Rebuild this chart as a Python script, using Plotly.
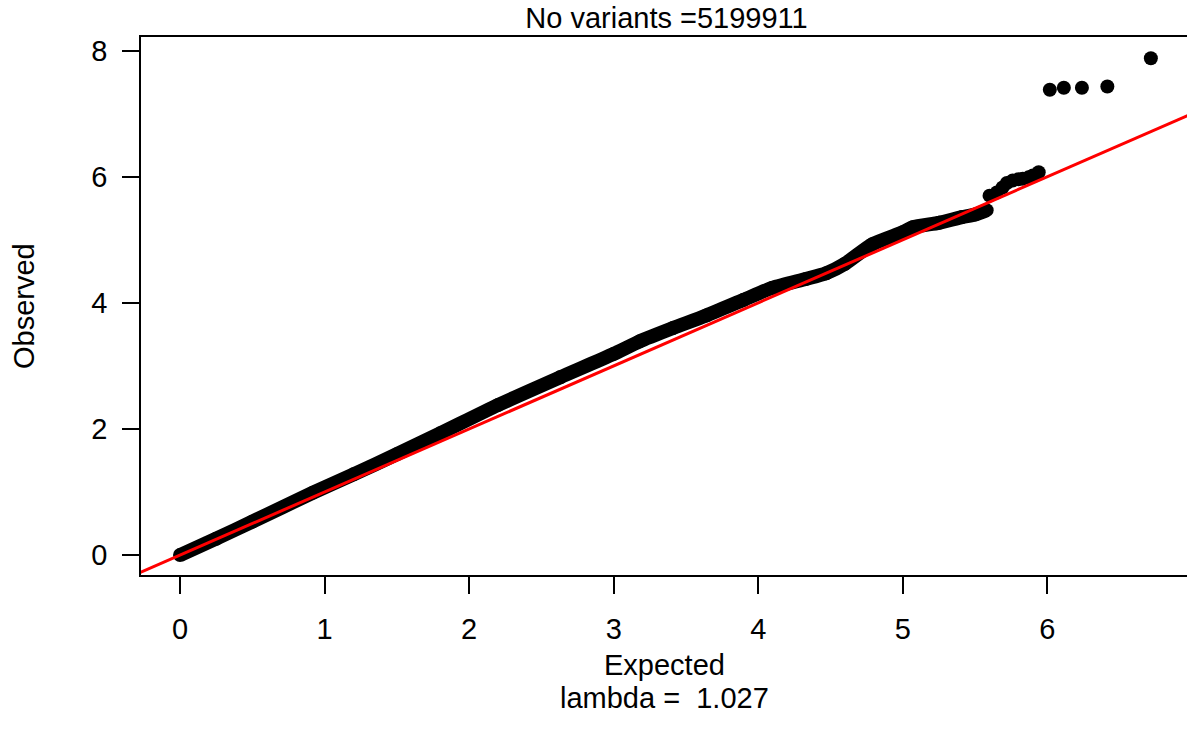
import plotly.graph_objects as go

# Q-Q plot of association p-values: -log10(expected) vs -log10(observed)
n_variants = 5199911
lambda_gc = 1.027

# Dense body of the distribution (drawn as a thick band of overlapping points)
band_expected = [0.00, 0.25, 0.50, 0.92, 1.20, 1.50, 1.80, 2.20, 2.63, 3.00, 3.18,
                 3.41, 3.64, 3.90, 4.10, 4.33, 4.47, 4.60, 4.79, 5.00, 5.07, 5.25,
                 5.41, 5.50, 5.58]
band_observed = [0.00, 0.26, 0.53, 0.99, 1.28, 1.60, 1.93, 2.38, 2.82, 3.19, 3.39,
                 3.60, 3.80, 4.05, 4.24, 4.38, 4.47, 4.62, 4.93, 5.12, 5.20, 5.27,
                 5.36, 5.40, 5.47]

# Upper tail: individual variants
tail_expected = [5.60, 5.65, 5.69, 5.72, 5.76, 5.80, 5.83, 5.87, 5.90, 5.94,
                 6.017, 6.114, 6.239, 6.415, 6.716]
tail_observed = [5.70, 5.75, 5.83, 5.90, 5.94, 5.96, 5.97, 5.99, 6.02, 6.07,
                 7.38, 7.41, 7.41, 7.43, 7.88]

# Reference line y = a + b*x
abline_a, abline_b = 0.0, 1.0

x_range = [-0.27, 6.966]
y_range = [-0.316, 8.216]
x_ticks = [0, 1, 2, 3, 4, 5, 6]
y_ticks = [0, 2, 4, 6, 8]

FONT = "Liberation Sans, Arial, Helvetica, sans-serif"
FS = 29

fig = go.Figure()

fig.add_trace(go.Scatter(
    x=band_expected, y=band_observed, mode="lines+markers",
    line=dict(color="black", width=14, shape="spline", smoothing=0.6),
    marker=dict(color="black", size=14),
    hoverinfo="skip", showlegend=False,
))
fig.add_trace(go.Scatter(
    x=tail_expected, y=tail_observed, mode="markers",
    marker=dict(color="black", size=14),
    showlegend=False,
))

line_x = [x_range[0] - 1, x_range[1] + 1]
fig.add_trace(go.Scatter(
    x=line_x, y=[abline_a + abline_b * v for v in line_x], mode="lines",
    line=dict(color="#ff0000", width=3),
    hoverinfo="skip", showlegend=False,
))

axis_common = dict(
    showgrid=False, zeroline=False, showline=True, linecolor="black", linewidth=1.8,
    ticks="outside", ticklen=17, tickwidth=1.6, tickcolor="black",
    tickfont=dict(family=FONT, size=FS, color="black"),
)

fig.update_layout(
    width=1187, height=744,
    margin=dict(l=141, r=0, t=37, b=169),
    paper_bgcolor="white", plot_bgcolor="white",
    font=dict(family=FONT, size=FS, color="black"),
    title=dict(text=f"No variants ={n_variants}", x=0.5615, xanchor="center",
               y=1 - 18 / 744, yanchor="middle",
               font=dict(family=FONT, size=FS, color="black")),
    xaxis=dict(range=x_range, tickvals=x_ticks, mirror=True, ticklabelstandoff=10,
               **axis_common),
    yaxis=dict(range=y_range, tickvals=y_ticks, mirror=False, ticklabelstandoff=9,
               **axis_common),
    annotations=[
        dict(text="Expected", xref="paper", yref="paper", x=0.5, y=0,
             xanchor="center", yanchor="middle", yshift=-90, showarrow=False,
             font=dict(family=FONT, size=FS, color="black")),
        dict(text=f"lambda = \u00a0{lambda_gc}", xref="paper", yref="paper", x=0.5, y=0,
             xanchor="center", yanchor="middle", yshift=-123, showarrow=False,
             font=dict(family=FONT, size=FS, color="black")),
        dict(text="Observed", xref="paper", yref="paper", x=0, y=0.5,
             xanchor="center", yanchor="middle", xshift=-117, textangle=-90,
             showarrow=False, font=dict(family=FONT, size=FS, color="black")),
    ],
)

fig.write_html("out.html")
